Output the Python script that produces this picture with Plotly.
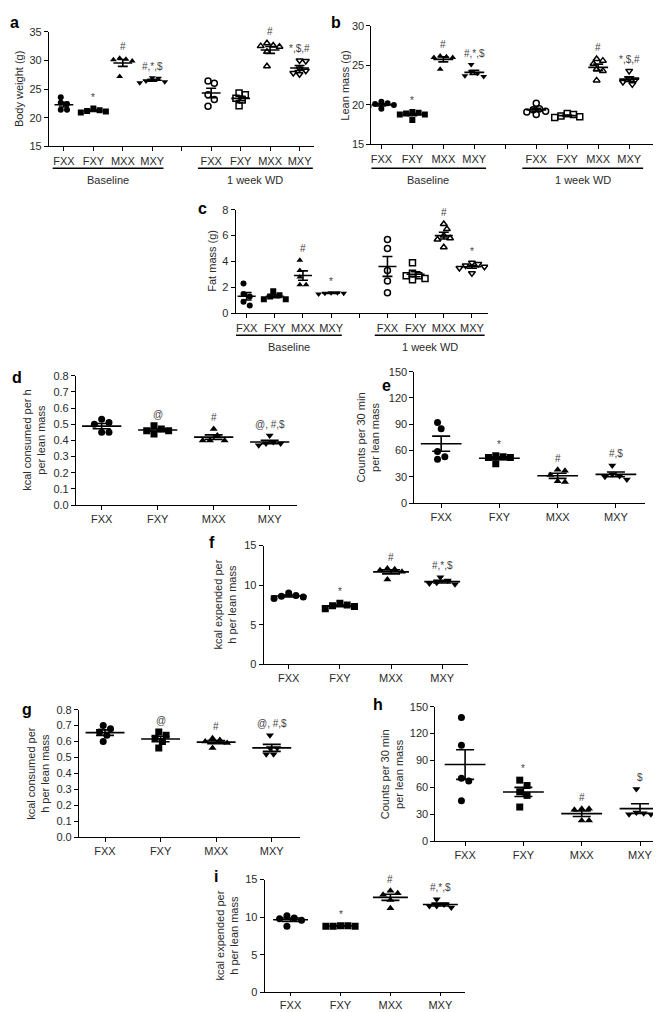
import numpy as np
import plotly.graph_objects as go

W, H = 661, 1012
GROUPS = ["FXX", "FXY", "MXX", "MXY"]

# ---------------- data ----------------
# a: body weight (g)
bw_baseline = [[23.6, 22.6, 22.4, 21.4, 21.4],
               [21.6, 21.3, 21.1, 20.9, 21.2],
               [30.4, 30.1, 29.9, 30.2, 27.2],
               [27.0, 26.4, 26.1, 26.3, 26.9]]
bw_wd = [[26.0, 26.4, 24.0, 23.2, 22.0],
         [24.0, 24.3, 23.1, 22.1, 23.4],
         [33.0, 32.6, 32.4, 32.5, 31.5, 29.0],
         [30.0, 29.9, 28.6, 28.2, 27.6, 27.8]]
bw_sig_baseline = ["", "*", "#", "#,*,$"]
bw_sig_wd = ["", "", "#", "*,$,#"]

# b: lean mass (g)
lm_baseline = [[20.4, 20.1, 20.2, 19.5, 19.8, 20.0],
               [19.1, 18.9, 18.8, 18.1, 18.8, 19.0],
               [26.1, 26.0, 26.2, 26.0, 24.5],
               [25.1, 24.2, 23.7, 23.6, 24.0]]
lm_wd = [[20.2, 19.5, 19.1, 18.8, 19.2, 19.4],
         [18.9, 18.8, 18.5, 18.4, 18.6],
         [25.8, 25.6, 25.2, 24.5, 24.3, 23.1],
         [24.3, 23.3, 23.2, 22.6, 22.9]]
lm_sig_baseline = ["", "*", "#", "#,*,$"]
lm_sig_wd = ["", "", "#", "*,$,#"]

# c: fat mass (g)
fm_baseline = [[2.3, 1.5, 1.3, 0.9, 0.6],
               [1.7, 1.4, 1.3, 1.1, 1.1],
               [4.1, 3.3, 2.8, 2.2, 2.2],
               [1.6, 1.55, 1.5, 1.55, 1.6]]
fm_wd = [[5.7, 5.0, 3.3, 2.5, 1.6],
         [3.9, 3.1, 2.9, 2.7, 2.6, 2.9],
         [6.9, 6.5, 6.0, 5.8, 5.7, 5.1],
         [3.9, 3.8, 3.6, 3.5, 3.1, 3.7]]
fm_sig_baseline = ["", "", "#", "*"]
fm_sig_wd = ["", "", "#", "*"]

# d: kcal consumed per h per lean mass
d_vals = [[0.51, 0.50, 0.53, 0.45, 0.45],
          [0.49, 0.47, 0.46, 0.44, 0.46],
          [0.47, 0.43, 0.40, 0.40, 0.40],
          [0.43, 0.39, 0.38, 0.38, 0.37]]
d_sig = ["", "@", "#", "@, #,$"]

# e: counts per 30 min per lean mass
e_vals = [[92, 85, 59, 50, 53],
          [54, 53, 52, 45, 52],
          [38, 37, 32, 24, 25],
          [43, 33, 30, 27, 31]]
e_sig = ["", "*", "#", "#,$"]

# f: kcal expended per h per lean mass
f_vals = [[9.0, 8.5, 8.3, 8.6, 8.7],
          [7.7, 7.4, 7.0, 7.3, 7.5],
          [12.1, 11.9, 12.0, 11.7, 10.7],
          [11.0, 10.3, 10.1, 10.2, 10.6]]
f_sig = ["", "*", "#", "#,*,$"]

# g: kcal consumed per h per lean mass
g_vals = [[0.68, 0.70, 0.66, 0.60, 0.64],
          [0.64, 0.66, 0.62, 0.56, 0.60],
          [0.62, 0.61, 0.60, 0.59, 0.56],
          [0.64, 0.56, 0.52, 0.52, 0.56]]
g_sig = ["", "@", "#", "@, #,$"]

# h: counts per 30 min per lean mass
h_vals = [[138, 107, 70, 67, 45],
          [68, 62, 55, 51, 38],
          [36, 36, 35, 23, 23],
          [58, 32, 30, 31, 30]]
h_sig = ["", "*", "#", "$"]

# i: kcal expended per h per lean mass
i_vals = [[10.2, 9.9, 9.6, 9.8, 8.8],
          [8.85, 8.8, 8.8, 8.8, 8.85],
          [13.5, 13.2, 13.0, 12.3, 11.2],
          [12.4, 11.7, 11.5, 11.3, 11.5]]
i_sig = ["", "*", "#", "#,*,$"]

# ---------------- styling / layout ----------------
SYMBOLS = ["circle", "square", "triangle-up", "triangle-down"]
FONT = "Liberation Sans, Arial, sans-serif"
TXT = "#2a2a2a"

fig = go.Figure()
layout = dict(width=W, height=H, margin=dict(l=0, r=0, t=0, b=0),
              paper_bgcolor="white", plot_bgcolor="white", showlegend=False,
              font=dict(family=FONT, size=11, color=TXT))
annotations = []
shapes = []


def swarm(vals, ppy, diam):
    """Simple beeswarm layout (pixel offsets), centred on the group position."""
    vals = np.asarray(vals, float)
    order = np.argsort(-vals)
    placed = []
    offs = np.zeros(len(vals))
    step = diam * 0.55
    for i in order:
        y = vals[i] * ppy
        k = 0
        while True:
            c = 0.0 if k == 0 else ((k + 1) // 2) * step * (1 if k % 2 == 1 else -1)
            if all((c - px) ** 2 + (y - py) ** 2 >= diam ** 2 for px, py in placed):
                break
            k += 1
        placed.append((c, y))
        offs[i] = c
    return offs - (offs.max() + offs.min()) / 2


def add_axes(idx, box, xr, yr, yticks, yfmt, tickvals, ticktext):
    x0, x1, ytop, ybot = box
    common = dict(showline=True, linecolor="black", linewidth=1, ticks="outside",
                  ticklen=4, tickwidth=1, tickcolor="black", showgrid=False,
                  zeroline=False, fixedrange=True,
                  tickfont=dict(family=FONT, size=11, color=TXT))
    layout[f"xaxis{idx}"] = dict(domain=[x0 / W, x1 / W], range=xr, anchor=f"y{idx}",
                                 tickmode="array", tickvals=tickvals, ticktext=ticktext, **common)
    layout[f"yaxis{idx}"] = dict(domain=[1 - ybot / H, 1 - ytop / H], range=yr, anchor=f"x{idx}",
                                 tickmode="array", tickvals=yticks,
                                 ticktext=[format(t, yfmt) for t in yticks], **common)
    ppx = (x1 - x0) / (xr[1] - xr[0])
    ppy = (ybot - ytop) / (yr[1] - yr[0])
    return ppx, ppy


def add_group(idx, pos, vals, symbol, hollow, ppx, ppy, hw, cap, msize, label):
    vals = np.asarray(vals, float)
    offs = swarm(vals, ppy, msize * 0.95) / ppx
    marker = dict(symbol=symbol + ("-open" if hollow else ""), size=msize, color="black",
                  line=dict(width=1.5 if hollow else 0, color="black"))
    fig.add_trace(go.Scatter(x=pos + offs, y=vals, mode="markers", marker=marker,
                             xaxis=f"x{idx}", yaxis=f"y{idx}", hoverinfo="skip"))
    m = vals.mean()
    sem = vals.std(ddof=1) / np.sqrt(len(vals))
    fig.add_trace(go.Scatter(x=[pos - hw, pos + hw], y=[m, m], mode="lines",
                             line=dict(color="black", width=1.6),
                             xaxis=f"x{idx}", yaxis=f"y{idx}", hoverinfo="skip"))
    fig.add_trace(go.Scatter(x=[pos], y=[m], mode="markers",
                             marker=dict(size=1, color="rgba(0,0,0,0)"),
                             error_y=dict(type="data", array=[sem], visible=True,
                                          color="black", thickness=1.6, width=cap),
                             xaxis=f"x{idx}", yaxis=f"y{idx}", hoverinfo="skip"))
    if label:
        annotations.append(dict(x=pos, y=vals.max(), xref=f"x{idx}", yref=f"y{idx}",
                                text=label, showarrow=False, yanchor="bottom", yshift=4,
                                font=dict(family=FONT, size=10, color="#444")))


def ytitle(text, cx, cy):
    annotations.append(dict(x=cx / W, y=1 - cy / H, xref="paper", yref="paper", text=text,
                            textangle=-90, showarrow=False, xanchor="center", yanchor="middle",
                            font=dict(family=FONT, size=11, color=TXT)))


def letter(text, cx, cy):
    annotations.append(dict(x=cx / W, y=1 - cy / H, xref="paper", yref="paper",
                            text=f"<b>{text}</b>", showarrow=False, xanchor="center",
                            yanchor="middle", font=dict(family=FONT, size=16, color="black")))


# ---- panels a, b, c (two timepoints) ----
TP_TICKS = [0, 1, 2, 3, 4, 5, 6, 7, 8]
TP_TEXT = GROUPS + [""] + GROUPS

two_tp = [
    dict(idx=1, box=(40, 305, 18, 134), xr=[-0.508, 8.475], yr=[15, 35], yt=[15, 20, 25, 30, 35],
         base=bw_baseline, wd=bw_wd, sb=bw_sig_baseline, sw=bw_sig_wd,
         title="Body weight (g)", tc=(10, 76), letter=("a", 6, 9), uy=156, ly=168),
    dict(idx=2, box=(363, 645, 12, 132), xr=[-0.32, 8.77], yr=[15, 30], yt=[15, 20, 25, 30],
         base=lm_baseline, wd=lm_wd, sb=lm_sig_baseline, sw=lm_sig_wd,
         title="Lean mass (g)", tc=(337, 72), letter=("b", 327, 9), uy=156, ly=168),
    dict(idx=3, box=(227, 480, 198, 303), xr=[-0.39, 8.58], yr=[0, 8], yt=[0, 2, 4, 6, 8],
         base=fm_baseline, wd=fm_wd, sb=fm_sig_baseline, sw=fm_sig_wd,
         title="Fat mass (g)", tc=(203, 250), letter=("c", 194, 197), uy=325, ly=337),
]

for p in two_tp:
    ppx, ppy = add_axes(p["idx"], p["box"], p["xr"], p["yr"], p["yt"], "g", TP_TICKS, TP_TEXT)
    for g in range(4):
        add_group(p["idx"], g, p["base"][g], SYMBOLS[g], False, ppx, ppy, 0.32, 5, 6, p["sb"][g])
        add_group(p["idx"], 5 + g, p["wd"][g], SYMBOLS[g], True, ppx, ppy, 0.32, 5, 6, p["sw"][g])
    for (c0, c1, lab) in [(-0.38, 3.38, "Baseline"), (4.55, 8.45, "1 week WD")]:
        shapes.append(dict(type="line", xref=f"x{p['idx']}", yref="paper", x0=c0, x1=c1,
                           y0=1 - p["uy"] / H, y1=1 - p["uy"] / H,
                           line=dict(color="black", width=1.5)))
        annotations.append(dict(x=(c0 + c1) / 2, y=1 - p["ly"] / H, xref=f"x{p['idx']}",
                                yref="paper", text=lab, showarrow=False, xanchor="center",
                                yanchor="middle", font=dict(family=FONT, size=11, color=TXT)))
    ytitle(p["title"], *p["tc"])
    letter(*p["letter"])

# ---- panels d - i ----
one_tp = [
    dict(idx=4, box=(67, 288, 366, 497), xr=[-0.46, 3.48], yr=[0, 0.8],
         yt=[0, .1, .2, .3, .4, .5, .6, .7, .8], fmt=".1f", vals=d_vals, sig=d_sig,
         title="kcal consumed per h<br>per lean mass", tc=(25, 431), letter=("d", 8, 368)),
    dict(idx=5, box=(406, 637, 362, 495), xr=[-0.46, 3.50], yr=[0, 150],
         yt=[0, 30, 60, 90, 120, 150], fmt="d", vals=e_vals, sig=e_sig,
         title="Counts per 30 min<br>per lean mass", tc=(359, 428), letter=("e", 378, 376)),
    dict(idx=6, box=(255, 460, 538, 658), xr=[-0.49, 3.51], yr=[0, 15],
         yt=[0, 5, 10, 15], fmt="d", vals=f_vals, sig=f_sig,
         title="kcal expended per<br>h per lean mass", tc=(216, 598), letter=("f", 203, 535)),
    dict(idx=7, box=(70, 291, 704, 833), xr=[-0.47, 3.50], yr=[0, 0.8],
         yt=[0, .1, .2, .3, .4, .5, .6, .7, .8], fmt=".1f", vals=g_vals, sig=g_sig,
         title="kcal consumed per<br>h per lean mass", tc=(29, 768), letter=("g", 18, 704)),
    dict(idx=8, box=(427, 660, 701, 837), xr=[-0.51, 3.48], yr=[0, 150],
         yt=[0, 30, 60, 90, 120, 150], fmt="d", vals=h_vals, sig=h_sig,
         title="Counts per 30 min<br>per lean mass", tc=(383, 769), letter=("h", 370, 699)),
    dict(idx=9, box=(256, 457, 876, 990), xr=[-0.52, 3.50], yr=[0, 15],
         yt=[0, 5, 10, 15], fmt="d", vals=i_vals, sig=i_sig,
         title="kcal expended per<br>h per lean mass", tc=(218, 933), letter=("i", 207, 873)),
]

for p in one_tp:
    ppx, ppy = add_axes(p["idx"], p["box"], p["xr"], p["yr"], p["yt"], p["fmt"],
                        [0, 1, 2, 3], GROUPS)
    for g in range(4):
        add_group(p["idx"], g, p["vals"][g], SYMBOLS[g], False, ppx, ppy, 0.35, 9, 7, p["sig"][g])
    ytitle(p["title"], *p["tc"])
    letter(*p["letter"])

layout["xaxis9"]["ticklen"] = 3
layout["annotations"] = annotations
layout["shapes"] = shapes
fig.update_layout(**layout)
fig.write_html("out.html")
